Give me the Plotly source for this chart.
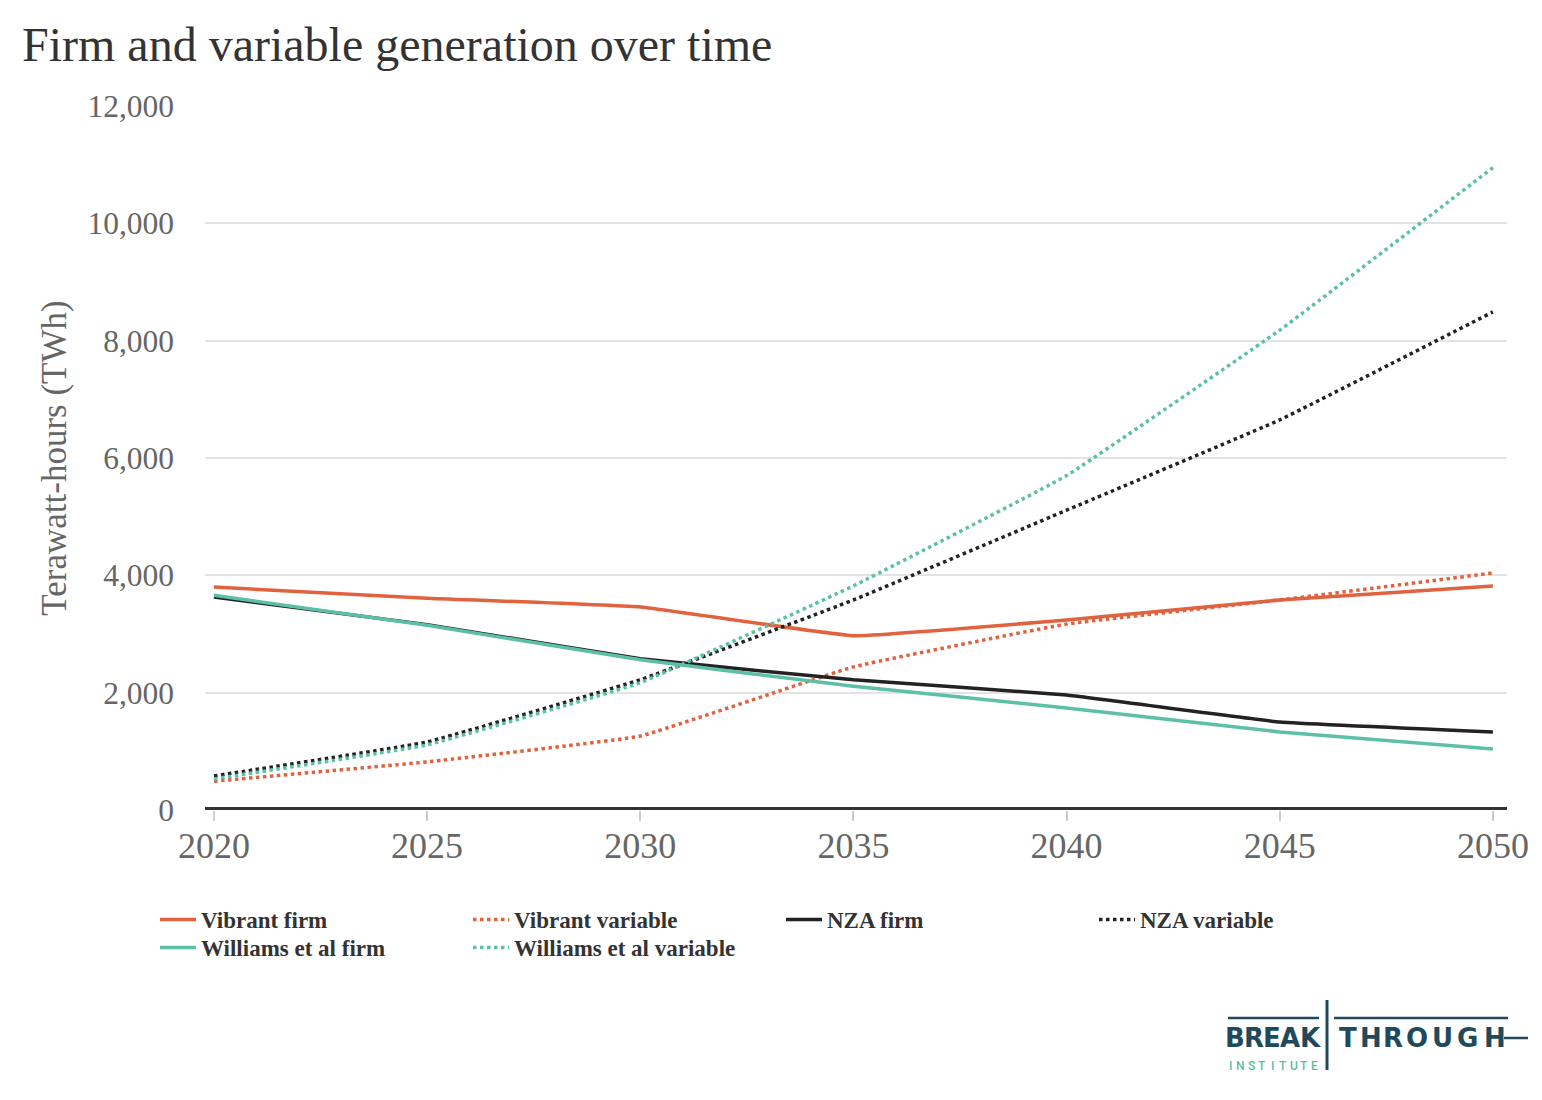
import plotly.graph_objects as go

years = [2020, 2025, 2030, 2035, 2040, 2045, 2050]
vibrant_firm = [3800, 3610, 3460, 2970, 3240, 3580, 3820]
vibrant_variable = [490, 820, 1260, 2440, 3170, 3580, 4040]
nza_firm = [3630, 3160, 2580, 2220, 1960, 1500, 1330]
nza_variable = [580, 1160, 2220, 3580, 5110, 6650, 8490]
williams_firm = [3660, 3150, 2560, 2110, 1740, 1330, 1040]
williams_variable = [530, 1110, 2170, 3820, 5700, 8180, 10950]
y_ticks = [0, 2000, 4000, 6000, 8000, 10000, 12000]
y_tick_labels = ["0", "2,000", "4,000", "6,000", "8,000", "10,000", "12,000"]

ORANGE = "#E0623F"
TEAL = "#5CC0A6"
BLACK = "#222222"
LOGO = "#21495B"

series = [
    ("Vibrant firm", vibrant_firm, ORANGE, "solid", "legend"),
    ("Vibrant variable", vibrant_variable, ORANGE, "dot", "legend"),
    ("NZA firm", nza_firm, BLACK, "solid", "legend"),
    ("NZA variable", nza_variable, BLACK, "dot", "legend"),
    ("Williams et al firm", williams_firm, TEAL, "solid", "legend2"),
    ("Williams et al variable", williams_variable, TEAL, "dot", "legend2"),
]

fig = go.Figure()
for name, vals, col, dash, leg in series:
    fig.add_trace(go.Scatter(
        x=years, y=vals, name=name, mode="lines", legend=leg,
        line=dict(color=col, width=3.5, dash=dash, shape="spline", smoothing=0.25),
    ))

# page has an 8px body margin; work in page pixel coordinates
OFF = 8
W, H = 1542 - 2 * OFF, 1075
L, R, T, B = 205 - OFF, 1507 - OFF, 106 - OFF, 810 - OFF


def px(x):
    return (x - OFF - L) / (R - L)


def py(y):
    return (B - (y - OFF)) / (B - T)


SERIF = "Liberation Serif, Times New Roman, serif"
LOGO_FONT = "DejaVu Sans, sans-serif"
SANS = "Roboto, DejaVu Sans, sans-serif"

shapes = [
    dict(type="line", xref="paper", yref="y", x0=0, x1=1, y0=0, y1=0,
         line=dict(color="#333333", width=6), layer="above"),
    # logo lines
    dict(type="line", xref="paper", yref="paper", x0=px(1228), x1=px(1319), y0=py(1018), y1=py(1018),
         line=dict(color=LOGO, width=2.5)),
    dict(type="line", xref="paper", yref="paper", x0=px(1334), x1=px(1508), y0=py(1018), y1=py(1018),
         line=dict(color=LOGO, width=2.5)),
    dict(type="line", xref="paper", yref="paper", x0=px(1327), x1=px(1327), y0=py(1000), y1=py(1070),
         line=dict(color=LOGO, width=3)),
    dict(type="line", xref="paper", yref="paper", x0=px(1504), x1=px(1528), y0=py(1038), y1=py(1038),
         line=dict(color=LOGO, width=2.5)),
]

annotations = [
    dict(text="Firm and variable generation over time", xref="paper", yref="paper",
         x=px(20), y=py(45), xanchor="left", yanchor="middle", showarrow=False,
         font=dict(family=SERIF, size=48, color="#333333")),
]

logo_letters = ["B", "R", "E", "A", "K", "T", "H", "R", "O", "U", "G", "H"]
logo_centers = [1235, 1254, 1272, 1290, 1310, 1348, 1371, 1393, 1417, 1442, 1467, 1495]
for ch, cx in zip(logo_letters, logo_centers):
    annotations.append(dict(text=ch, xref="paper", yref="paper", x=px(cx), y=py(1038),
                            xanchor="center", yanchor="middle", showarrow=False,
                            font=dict(family=LOGO_FONT, size=26, color=LOGO, weight="bold")))

inst_letters = list("INSTITUTE")
for i, ch in enumerate(inst_letters):
    annotations.append(dict(text=ch, xref="paper", yref="paper", x=px(1230 + i * 10.6), y=py(1066),
                            xanchor="center", yanchor="middle", showarrow=False,
                            font=dict(family=SANS, size=12, color="#5BBFA0", weight=500)))

legend_common = dict(
    orientation="h", xanchor="left", yanchor="top",
    entrywidth=262, entrywidthmode="pixels", traceorder="normal",
    font=dict(family=SERIF, size=23, color="#333333", weight="bold"),
    itemwidth=36, bgcolor="rgba(0,0,0,0)",
)

fig.update_layout(
    width=W, height=H,
    margin=dict(l=L, r=W - R, t=T, b=H - B),
    paper_bgcolor="white", plot_bgcolor="white",
    showlegend=True,
    legend=dict(x=px(155), y=py(898), **legend_common),
    legend2=dict(x=px(155), y=py(926), **legend_common),
    shapes=shapes,
    annotations=annotations,
    xaxis=dict(
        range=[2019.79, 2050.33], tickvals=years, ticktext=[str(y) for y in years],
        showgrid=False, zeroline=False, showline=False, automargin=False,
        ticks="outside", ticklen=10, tickcolor="#CCCCD6", tickwidth=1.5,
        ticklabelstandoff=-6,
        tickfont=dict(family=SERIF, size=36, color="#666666"),
    ),
    yaxis=dict(
        range=[0, 12000], tickvals=y_ticks, ticktext=y_tick_labels,
        showgrid=True, gridcolor="#E3E3E3", gridwidth=1.5, zeroline=False, showline=False,
        ticks="", ticklabelstandoff=30, automargin=False,
        tickfont=dict(family=SERIF, size=31.5, color="#666666"),
        title=dict(text="Terawatt-hours (TWh)", standoff=10,
                   font=dict(family=SERIF, size=35, color="#666666")),
    ),
)

fig.write_html("out.html")
